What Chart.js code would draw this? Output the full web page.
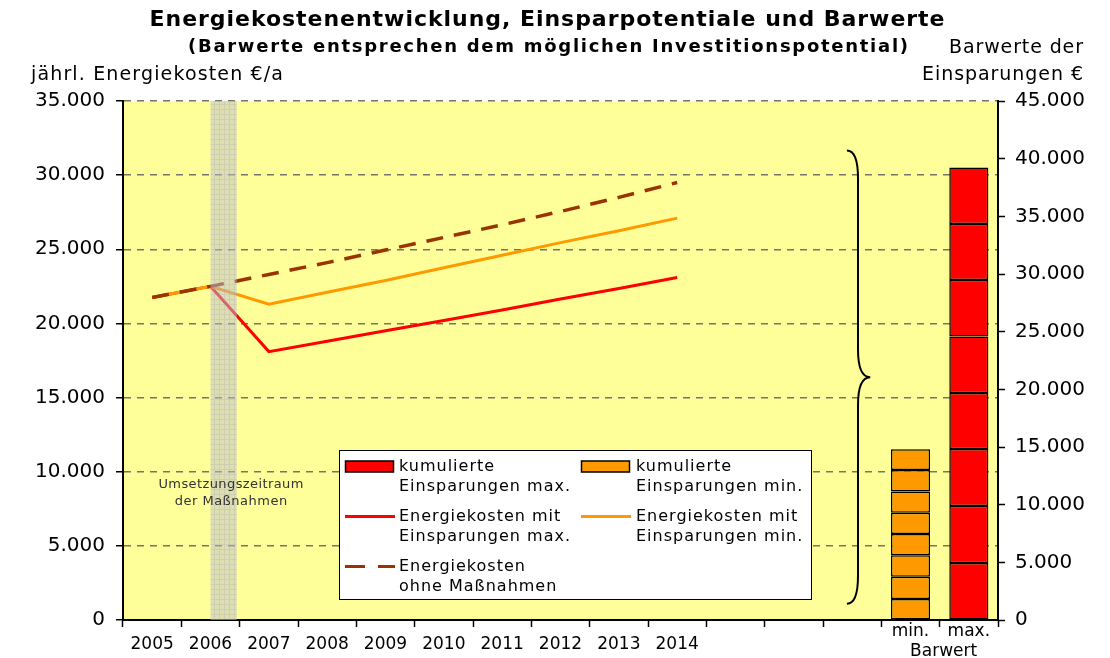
<!DOCTYPE html>
<html><head><meta charset="utf-8">
<script src="https://cdn.jsdelivr.net/npm/chart.js@4.4.0/dist/chart.umd.min.js"></script>
<style>html,body{margin:0;padding:0;background:#fff;}#wrap{width:1110px;height:658px;}</style>
</head><body><div id="wrap"><canvas id="c" width="1110" height="658"></canvas></div>
<script>
// ---------- data ----------
const categories = ['2005','2006','2007','2008','2009','2010','2011','2012','2013','2014','','','','min.','max.'];
const yearCount = 10;
const barGroupLabel = 'Barwert';
const costWithoutMeasures = [21750, 22500, 23300, 24100, 24950, 25800, 26650, 27550, 28500, 29500];
const costWithMinSavings  = [21750, 22500, 21300, 22100, 22900, 23750, 24600, 25450, 26250, 27100];
const costWithMaxSavings  = [21750, 22500, 18100, 18800, 19500, 20200, 20900, 21650, 22350, 23100];
const presentValueMinSegments = [1820, 1930, 1855, 1845, 1845, 1855, 1845, 1820];
const presentValueMaxSegments = [4940, 4940, 4940, 4855, 4915, 4880, 4855, 4915];
const implementationStart = 1;      // category index (2006)
const implementationLength = 0.45;  // in categories
const braceRange = [1400, 40700];   // right-axis values
const leftAxisMax = 35000, rightAxisMax = 45000, tickStep = 5000;

const titleText = 'Energiekostenentwicklung, Einsparpotentiale und Barwerte';
const subtitleText = '(Barwerte entsprechen dem möglichen Investitionspotential)';
const leftAxisTitle = 'jährl. Energiekosten €/a';
const rightAxisTitle = ['Barwerte der', 'Einsparungen €'];
const noteText = ['Umsetzungszeitraum', 'der Maßnahmen'];
const legendEntries = [
  {lines:['kumulierte','Einsparungen max.'], kind:'box', color:'#FF0000'},
  {lines:['kumulierte','Einsparungen min.'], kind:'box', color:'#FF9900'},
  {lines:['Energiekosten mit','Einsparungen max.'], kind:'line', color:'#FF0000'},
  {lines:['Energiekosten mit','Einsparungen min.'], kind:'line', color:'#FF9900'},
  {lines:['Energiekosten','ohne Maßnahmen'], kind:'dash', color:'#993300'}
];

// ---------- helpers ----------
const FONT = '"DejaVu Sans", Verdana, sans-serif';
const minIdx = categories.indexOf('min.'), maxIdx = categories.indexOf('max.');
const pad = arr => categories.map((c, i) => i < arr.length ? arr[i] : null);
const fmt = v => String(v).replace(/\B(?=(\d{3})+(?!\d))/g, '.');

function drawText(ctx, text, x, y, o) {
  ctx.save();
  ctx.font = o.font; ctx.fillStyle = o.color || '#000'; ctx.textBaseline = 'middle'; ctx.textAlign = 'left';
  const w0 = ctx.measureText(text).width;
  let sp = o.spacing || 0;
  if (o.width) sp = (o.width - w0) / Math.max(text.length - 1, 1);
  const has = 'letterSpacing' in ctx;
  if (has) ctx.letterSpacing = sp + 'px';
  const total = has ? w0 + sp * (text.length - 1) : w0;
  let x0 = x;
  if (o.align === 'center') x0 = x - total / 2; else if (o.align === 'right') x0 = x - total;
  ctx.fillText(text, x0, y);
  ctx.restore();
}

function bandPattern(ctx) {
  const p = document.createElement('canvas'); p.width = 5; p.height = 5;
  const g = p.getContext('2d');
  g.fillStyle = 'rgba(190,190,205,0.5)'; g.fillRect(0, 0, 5, 5);
  g.fillStyle = 'rgba(150,150,170,0.22)'; g.fillRect(0, 4, 5, 1); g.fillRect(4, 0, 1, 4);
  return ctx.createPattern(p, 'repeat');
}

const deco = {
  id: 'deco',
  beforeDraw(chart) {
    const {ctx, chartArea: a} = chart;
    ctx.save(); ctx.fillStyle = '#FFFF99';
    ctx.fillRect(a.left, a.top, a.right - a.left, a.bottom - a.top); ctx.restore();
  },
  afterDatasetsDraw(chart) {
    const {ctx, chartArea: a} = chart;
    const xs = chart.scales.x, y1 = chart.scales.y1;
    const cw = xs.getPixelForValue(1) - xs.getPixelForValue(0);
    // implementation band
    const bx = xs.getPixelForValue(implementationStart);
    ctx.save(); ctx.fillStyle = bandPattern(ctx);
    ctx.fillRect(bx, a.top, implementationLength * cw, a.bottom - a.top); ctx.restore();
    // note text
    drawText(ctx, noteText[0], bx + 0.35 * cw, 485, {font: '13px ' + FONT, color: '#333', width: 145, align: 'center'});
    drawText(ctx, noteText[1], bx + 0.35 * cw, 502, {font: '13px ' + FONT, color: '#333', spacing: 0.5, align: 'center'});
    // brace
    const xc = xs.getPixelForValue(12);
    const xTip = xc - 0.09 * cw, xV = xc + 0.1 * cw, xMid = xc + 0.31 * cw;
    const yTop = y1.getPixelForValue(braceRange[1]), yBot = y1.getPixelForValue(braceRange[0]);
    const yMid = (yTop + yBot) / 2, r = 28;
    ctx.save(); ctx.strokeStyle = '#000'; ctx.lineWidth = 2;
    ctx.beginPath();
    ctx.moveTo(xTip, yTop); ctx.quadraticCurveTo(xV, yTop, xV, yTop + r);
    ctx.lineTo(xV, yMid - r); ctx.quadraticCurveTo(xV, yMid, xMid, yMid);
    ctx.moveTo(xMid, yMid); ctx.quadraticCurveTo(xV, yMid, xV, yMid + r);
    ctx.lineTo(xV, yBot - r); ctx.quadraticCurveTo(xV, yBot, xTip, yBot);
    ctx.stroke(); ctx.restore();
    // legend
    const L = {x: 339, y: 451, w: 472, h: 149};
    ctx.save();
    ctx.fillStyle = '#fff'; ctx.fillRect(L.x, L.y, L.w, L.h);
    ctx.strokeStyle = '#000'; ctx.lineWidth = 1; ctx.strokeRect(L.x + 0.5, L.y - 0.5, L.w, L.h);
    legendEntries.forEach((e, i) => {
      const col = i % 2, row = Math.floor(i / 2);
      const sx = col ? 581 : 345, tx = col ? 636 : 399;
      const ty = 466.5 + row * 50;
      if (e.kind === 'box') {
        ctx.fillStyle = e.color; ctx.fillRect(sx, ty - 5.5, 49, 11);
        ctx.strokeStyle = '#000'; ctx.lineWidth = 1.5; ctx.strokeRect(sx + 0.5, ty - 5.5, 48, 11);
      } else {
        ctx.strokeStyle = e.color; ctx.lineWidth = 3;
        ctx.setLineDash(e.kind === 'dash' ? [20, 13] : []);
        ctx.beginPath(); ctx.moveTo(sx, ty); ctx.lineTo(sx + 50, ty); ctx.stroke();
        ctx.setLineDash([]);
      }
      e.lines.forEach((t, k) => drawText(ctx, t, tx, ty + k * 20.5, {font: '16px ' + FONT, spacing: 1}));
    });
    ctx.restore();
  },
  afterDraw(chart) {
    const {ctx} = chart;
    const xs = chart.scales.x;
    drawText(ctx, titleText, 547, 20, {font: 'bold 22px ' + FONT, width: 795, align: 'center'});
    drawText(ctx, subtitleText, 548, 47, {font: 'bold 18px ' + FONT, width: 720, align: 'center'});
    drawText(ctx, leftAxisTitle, 31, 75, {font: '19px ' + FONT, width: 252});
    drawText(ctx, rightAxisTitle[0], 1083, 48, {font: '19px ' + FONT, width: 134, align: 'right'});
    drawText(ctx, rightAxisTitle[1], 1083, 75, {font: '19px ' + FONT, width: 161, align: 'right'});
    const pm = xs.getPixelForValue(minIdx), px = xs.getPixelForValue(maxIdx);
    drawText(ctx, categories[minIdx], pm, 632, {font: '17px ' + FONT, align: 'center'});
    drawText(ctx, categories[maxIdx], px, 632, {font: '17px ' + FONT, align: 'center'});
    drawText(ctx, barGroupLabel, (pm + px) / 2 + 4, 652, {font: '17px ' + FONT, align: 'center'});
  }
};

// ---------- datasets ----------
const lineDs = (label, data, color, dash, width) => ({
  type: 'line', label, data: pad(data), borderColor: color, backgroundColor: color,
  borderWidth: width || 3, borderDash: dash || [], pointRadius: 0, pointHoverRadius: 0, tension: 0,
  fill: false, yAxisID: 'y', order: 0
});
const barDatasets = presentValueMinSegments.map((v, i) => ({
  type: 'bar', label: 'Segment ' + (i + 1),
  data: categories.map((c, k) => k === minIdx ? presentValueMinSegments[i] : (k === maxIdx ? presentValueMaxSegments[i] : null)),
  backgroundColor: ctx => ctx.dataIndex === minIdx ? '#FF9900' : '#FF0000',
  borderColor: '#000', borderWidth: 1.5, borderSkipped: false,
  barPercentage: 0.67, categoryPercentage: 1, yAxisID: 'y1', stack: 'pv', order: 1
}));

const datasets = [
  lineDs('Energiekosten ohne Maßnahmen', costWithoutMeasures, '#993300', [17, 11], 3.5),
  lineDs('Energiekosten mit Einsparungen min.', costWithMinSavings, '#FF9900'),
  lineDs('Energiekosten mit Einsparungen max.', costWithMaxSavings, '#FF0000'),
  ...barDatasets
];

new Chart(document.getElementById('c'), {
  type: 'bar',
  data: {labels: categories, datasets},
  options: {
    responsive: false, animation: false, devicePixelRatio: 1,
    layout: {padding: {top: 101, left: 0, right: 0, bottom: 0}},
    plugins: {legend: {display: false}, tooltip: {enabled: false}, title: {display: false}},
    scales: {
      x: {
        type: 'category', stacked: true, offset: true,
        grid: {display: true, offset: true, drawOnChartArea: false, drawTicks: true, tickLength: 7, tickColor: '#000', tickWidth: 1.5},
        border: {display: true, color: '#000', width: 2},
        ticks: {autoSkip: false, maxRotation: 0, color: '#000', padding: 7, font: {family: FONT, size: 17},
          callback: (v, i) => i < yearCount ? categories[i] : ''},
        afterFit: s => { s.height = 38; }
      },
      y: {
        position: 'left', min: 0, max: leftAxisMax,
        ticks: {stepSize: tickStep, color: '#000', padding: 11, font: {family: FONT, size: 20}, callback: v => fmt(v)},
        grid: {color: c => (c.tick && c.tick.value === 0) ? 'rgba(0,0,0,0)' : '#75756a', lineWidth: 1.5,
          drawTicks: true, tickLength: 7, tickColor: '#000', tickWidth: 1.5},
        border: {display: true, color: '#000', width: 2, dash: [7, 6]},
        afterFit: s => { s.width = 123; }
      },
      y1: {
        position: 'right', min: 0, max: rightAxisMax, stacked: true,
        ticks: {stepSize: tickStep, color: '#000', padding: 10, font: {family: FONT, size: 20}, callback: v => fmt(v)},
        grid: {drawOnChartArea: false, drawTicks: true, tickLength: 7, tickColor: '#000', tickWidth: 1.5},
        border: {display: true, color: '#000', width: 2},
        afterFit: s => { s.width = 112; }
      }
    }
  },
  plugins: [deco]
});
</script>
</body></html>
